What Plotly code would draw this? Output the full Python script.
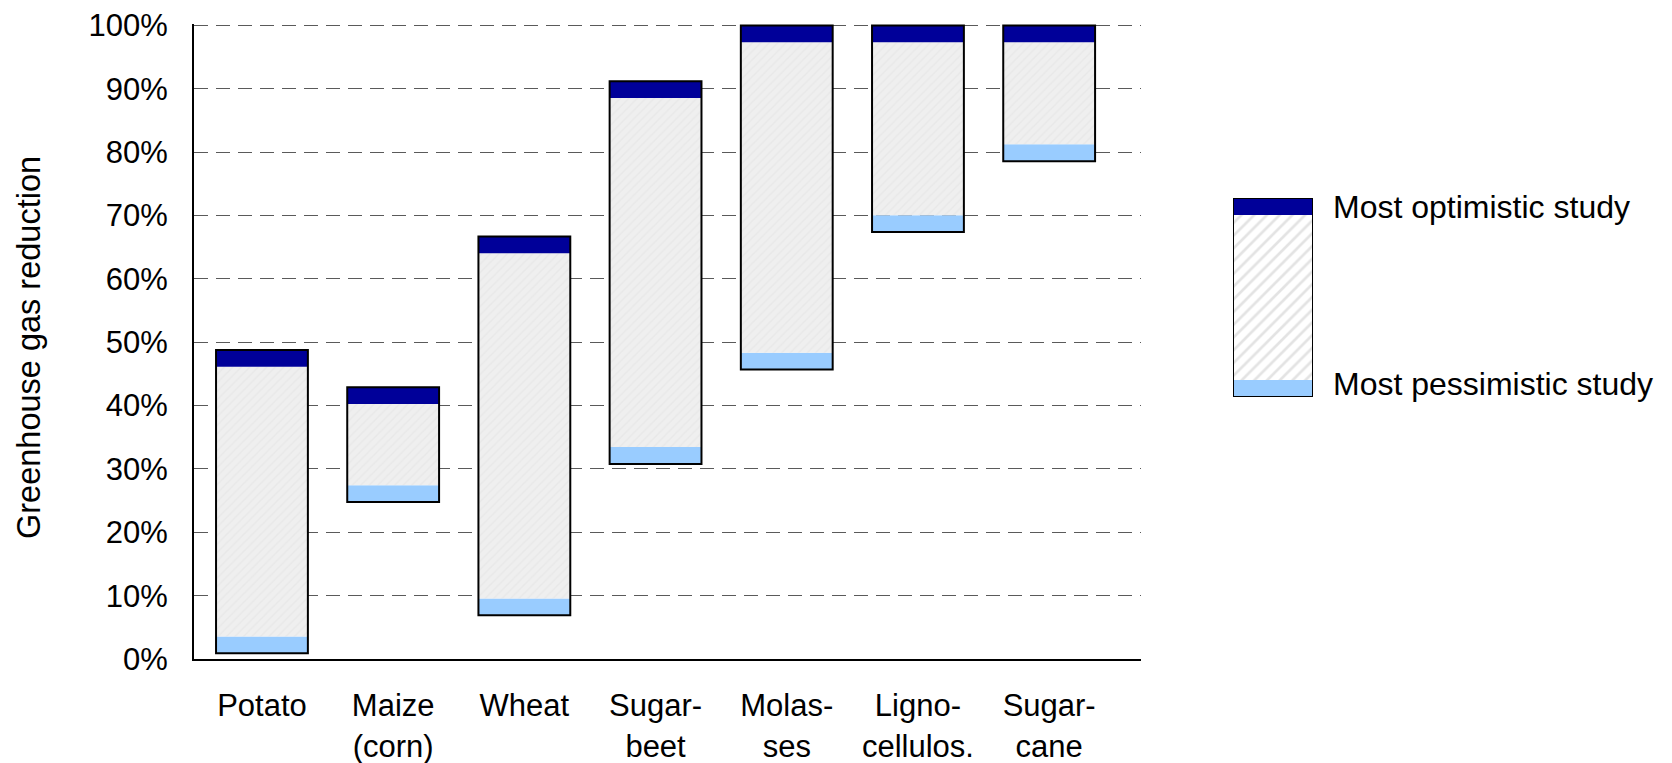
import plotly.graph_objects as go

# ---- data ----
categories = ["Potato", "Maize<br>(corn)", "Wheat", "Sugar-<br>beet", "Molas-<br>ses",
              "Ligno-<br>cellulos.", "Sugar-<br>cane"]
pessimistic = [0.9, 24.8, 6.9, 30.8, 45.7, 67.4, 78.6]   # % reduction, most pessimistic study
optimistic = [48.8, 42.9, 66.7, 91.2, 100.0, 100.0, 100.0]  # % reduction, most optimistic study
y_ticks = [0, 10, 20, 30, 40, 50, 60, 70, 80, 90, 100]
y_tick_text = [f"{v}%" for v in y_ticks]
legend_labels = ["Most optimistic study", "Most pessimistic study"]
y_title = "Greenhouse gas reduction"

# ---- style ----
BAND = 2.65
DARK = "#000099"
LIGHT = "#99CCFF"
MID = "#EFEFEF"
FONT = "Liberation Sans, Arial, sans-serif"
W, H = 1672, 763
L, R, T, B = 194, 20, 24, 104
PW = W - L - R
PH = H - T - B

def px_x(p):
    return (p - L) / PW

def px_y(p):
    return (H - B - p) / PH

main_dom = [0, px_x(1141)]

fig = go.Figure()

low_band_h = [BAND] * len(categories)
mid_base = [lo + BAND for lo in pessimistic]
mid_h = [hi - lo - 2 * BAND for lo, hi in zip(pessimistic, optimistic)]
top_base = [hi - BAND for hi in optimistic]
full_h = [hi - lo for lo, hi in zip(pessimistic, optimistic)]

fig.add_trace(go.Bar(x=categories, y=low_band_h, base=pessimistic, width=0.7,
                     marker=dict(color=LIGHT, line=dict(width=0)), showlegend=False))
fig.add_trace(go.Bar(x=categories, y=mid_h, base=mid_base, width=0.7,
                     marker=dict(color=MID, line=dict(width=0),
                                 pattern=dict(shape="/", fgcolor="#e2e2e2", bgcolor=MID,
                                              size=6, solidity=0.25)),
                     showlegend=False))
fig.add_trace(go.Bar(x=categories, y=low_band_h, base=top_base, width=0.7,
                     marker=dict(color=DARK, line=dict(width=0)), showlegend=False))
fig.add_trace(go.Bar(x=categories, y=full_h, base=pessimistic, width=0.7,
                     marker=dict(color="rgba(0,0,0,0)", line=dict(color="black", width=2)),
                     showlegend=False))

# ---- legend drawn as a small bar on its own axes ----
leg_band = 17 / 199
fig.add_trace(go.Bar(x=[0], y=[leg_band], base=[0], width=1, xaxis="x2", yaxis="y2",
                     marker=dict(color=LIGHT, line=dict(width=0)), showlegend=False))
fig.add_trace(go.Bar(x=[0], y=[1 - 2 * leg_band], base=[leg_band], width=1, xaxis="x2", yaxis="y2",
                     marker=dict(color="white", line=dict(width=0),
                                 pattern=dict(shape="/", fgcolor="#c8c8c8", bgcolor="white",
                                              size=9, solidity=0.3)),
                     showlegend=False))
fig.add_trace(go.Bar(x=[0], y=[leg_band], base=[1 - leg_band], width=1, xaxis="x2", yaxis="y2",
                     marker=dict(color=DARK, line=dict(width=0)), showlegend=False))
fig.add_trace(go.Bar(x=[0], y=[1], base=[0], width=1, xaxis="x2", yaxis="y2",
                     marker=dict(color="rgba(0,0,0,0)", line=dict(color="black", width=2)),
                     showlegend=False))

fig.update_layout(
    width=W, height=H,
    margin=dict(l=L, r=R, t=T, b=B, pad=0),
    paper_bgcolor="white", plot_bgcolor="white",
    barmode="overlay",
    font=dict(family=FONT, size=32, color="black"),
    xaxis=dict(domain=main_dom, range=[-0.518, 6.70], showgrid=False, automargin=False,
               showline=True, linecolor="black", linewidth=2, ticks="",
               tickfont=dict(size=31), ticklabelstandoff=18, fixedrange=True),
    yaxis=dict(range=[0, 100.25], tickvals=y_ticks, ticktext=y_tick_text, automargin=False,
               showgrid=True, gridcolor="#5a5a5a", gridwidth=1.2, griddash="14px,8px",
               showline=True, linecolor="black", linewidth=2, ticks="",
               tickfont=dict(size=31), ticklabelstandoff=18, zeroline=False),
    xaxis2=dict(domain=[px_x(1233), px_x(1313)], range=[-0.5, 0.5], anchor="y2",
                visible=False, fixedrange=True),
    yaxis2=dict(domain=[px_y(397), px_y(198)], range=[0, 1], anchor="x2",
                visible=False, fixedrange=True),
    annotations=[
        dict(text=y_title, textangle=-90, x=px_x(29), y=px_y(348), xref="paper", yref="paper",
             xanchor="center", yanchor="middle", showarrow=False, font=dict(size=32.5)),
        dict(text=legend_labels[0], x=px_x(1331), y=px_y(207), xref="paper", yref="paper",
             xanchor="left", yanchor="middle", showarrow=False, font=dict(size=32)),
        dict(text=legend_labels[1], x=px_x(1331), y=px_y(384), xref="paper", yref="paper",
             xanchor="left", yanchor="middle", showarrow=False, font=dict(size=32)),
    ],
)

fig.write_html("out.html", config={"displayModeBar": False},
               post_script="document.body.style.margin='0';document.body.style.overflow='hidden';")
